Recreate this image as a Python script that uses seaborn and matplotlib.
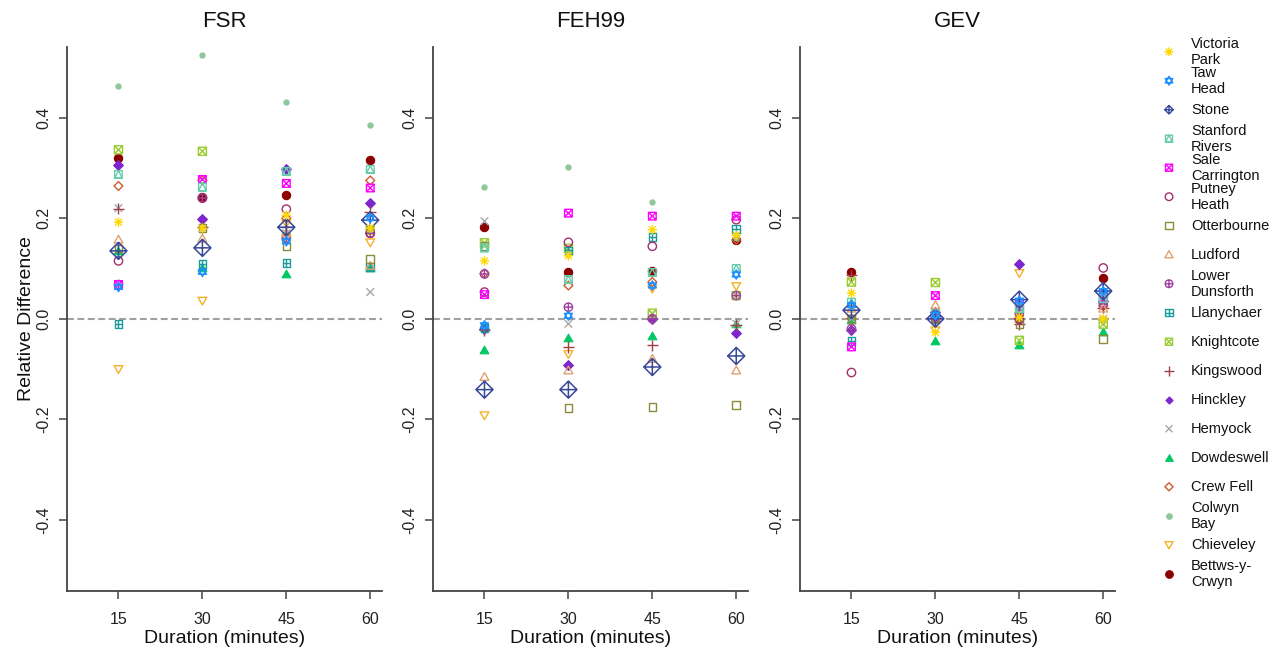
import numpy as np
import pandas as pd
import seaborn as sns
import matplotlib.pyplot as plt
from matplotlib.path import Path

# sites as listed in the legend (top to bottom)
sites = ["Victoria Park", "Taw Head", "Stone", "Stanford Rivers", "Sale Carrington",
         "Putney Heath", "Otterbourne", "Ludford", "Lower Dunsforth", "Llanychaer",
         "Knightcote", "Kingswood", "Hinckley", "Hemyock", "Dowdeswell",
         "Crew Fell", "Colwyn Bay", "Chieveley", "Bettws-y-Crwyn"]
legend_labels = ["Victoria\nPark", "Taw\nHead", "Stone", "Stanford\nRivers", "Sale\nCarrington",
                 "Putney\nHeath", "Otterbourne", "Ludford", "Lower\nDunsforth", "Llanychaer",
                 "Knightcote", "Kingswood", "Hinckley", "Hemyock", "Dowdeswell",
                 "Crew Fell", "Colwyn\nBay", "Chieveley", "Bettws-y-\nCrwyn"]
durations = [15, 30, 45, 60]
methods = ["FSR", "FEH99", "GEV"]

# relative difference, one row per site, columns = 15, 30, 45, 60 minutes
fsr = [
    [0.192, 0.180, 0.206, 0.180],
    [0.063, 0.093, 0.154, 0.200],
    [0.135, 0.141, 0.182, 0.196],
    [0.287, 0.262, 0.293, 0.297],
    [0.068, 0.277, 0.269, 0.260],
    [0.115, 0.240, 0.218, 0.170],
    [0.140, 0.180, 0.144, 0.119],
    [0.157, 0.159, 0.170, 0.105],
    [0.068, 0.240, 0.160, 0.170],
    [-0.011, 0.109, 0.111, 0.103],
    [0.336, 0.333, 0.162, 0.176],
    [0.219, 0.182, 0.182, 0.212],
    [0.306, 0.199, 0.297, 0.230],
    [0.220, 0.180, 0.170, 0.053],
    [0.135, 0.100, 0.088, 0.100],
    [0.264, 0.275, 0.200, 0.275],
    [0.463, 0.524, 0.431, 0.385],
    [-0.100, 0.036, 0.190, 0.152],
    [0.320, 0.243, 0.247, 0.316],
]
feh99 = [
    [0.115, 0.125, 0.177, 0.166],
    [-0.013, 0.006, 0.066, 0.088],
    [-0.141, -0.141, -0.096, -0.074],
    [0.141, 0.078, 0.092, 0.100],
    [0.048, 0.210, 0.204, 0.204],
    [0.053, 0.152, 0.144, 0.197],
    [0.145, -0.178, -0.176, -0.172],
    [-0.116, -0.103, -0.080, -0.103],
    [0.089, 0.023, 0.000, 0.046],
    [-0.018, 0.136, 0.163, 0.178],
    [0.151, 0.140, 0.011, 0.046],
    [-0.023, -0.056, -0.053, -0.012],
    [-0.020, -0.093, 0.000, -0.029],
    [0.194, -0.010, 0.010, -0.010],
    [-0.062, -0.038, -0.035, -0.010],
    [0.090, 0.066, 0.073, 0.157],
    [0.262, 0.302, 0.232, 0.160],
    [-0.192, -0.070, 0.060, 0.065],
    [0.182, 0.092, 0.094, 0.157],
]
gev = [
    [0.051, -0.027, 0.003, 0.000],
    [0.027, 0.007, 0.036, 0.055],
    [0.017, 0.000, 0.038, 0.055],
    [0.033, 0.010, 0.020, 0.040],
    [-0.056, 0.046, 0.031, 0.043],
    [-0.107, 0.005, 0.000, 0.101],
    [0.000, 0.000, -0.010, -0.040],
    [0.020, 0.027, 0.000, 0.020],
    [-0.020, 0.000, 0.010, 0.030],
    [-0.044, 0.000, 0.020, 0.050],
    [0.073, 0.072, -0.043, -0.011],
    [0.086, 0.005, -0.010, 0.022],
    [-0.023, 0.013, 0.109, 0.036],
    [0.000, 0.000, 0.000, 0.000],
    [-0.003, -0.044, -0.053, -0.027],
    [0.000, 0.000, 0.000, 0.025],
    [0.000, 0.000, 0.000, 0.000],
    [0.000, -0.023, 0.091, -0.005],
    [0.093, 0.013, 0.000, 0.080],
]
values = {"FSR": fsr, "FEH99": feh99, "GEV": gev}

colours = ["#FFD700", "#1E90FF", "#3A4A9A", "#66CDAA", "#FF00FF",
           "#A0306E", "#8B8B3A", "#E0A070", "#A040A0", "#1A9A9A",
           "#9ACD32", "#A0404A", "#7D26CD", "#A8A8A8", "#00C864",
           "#CD5B2D", "#8FC79A", "#F5B027", "#8B0000"]


# ---- R-like plotting symbols built from paths ----
def poly(pts):
    return Path(pts + [pts[0]], [Path.MOVETO] + [Path.LINETO] * (len(pts) - 1) + [Path.CLOSEPOLY])


def seg(*pairs):
    verts, codes = [], []
    for a, b in pairs:
        verts += [a, b]
        codes += [Path.MOVETO, Path.LINETO]
    return Path(verts, codes)


SQ = poly([(-1, -1), (1, -1), (1, 1), (-1, 1)])
CIRC = Path.unit_circle()
DIAM = poly([(0, -1), (1, 0), (0, 1), (-1, 0)])
TUP = poly([(-1, -0.75), (1, -0.75), (0, 1)])
TDN = poly([(-1, 0.75), (1, 0.75), (0, -1)])
PLUS = seg(((-1, 0), (1, 0)), ((0, -1), (0, 1)))
CROSS = seg(((-1, -1), (1, 1)), ((-1, 1), (1, -1)))
SMALLX = seg(((-0.72, -0.72), (0.72, 0.72)), ((-0.72, 0.72), (0.72, -0.72)))
STAR6 = Path.make_compound_path(poly([(-0.87, -0.5), (0.87, -0.5), (0, 1)]),
                                poly([(-0.87, 0.5), (0.87, 0.5), (0, -1)]))
cp = Path.make_compound_path

# (path, filled, size in plot, size in legend)
symbols = [
    (cp(PLUS, SMALLX), False, 45, 40),
    (STAR6, False, 45, 40),
    (cp(DIAM, PLUS), False, 150, 38),
    (cp(SQ, poly([(-1, -1), (1, -1), (0, 1)])), False, 30, 26),
    (cp(SQ, CROSS), False, 30, 26),
    (CIRC, False, 36, 30),
    (SQ, False, 30, 26),
    (TUP, False, 40, 34),
    (cp(CIRC, PLUS), False, 36, 30),
    (cp(SQ, PLUS), False, 30, 26),
    (cp(SQ, CROSS), False, 34, 26),
    (PLUS, False, 70, 50),
    (DIAM, True, 50, 26),
    (CROSS, False, 30, 26),
    (TUP, True, 40, 30),
    (DIAM, False, 40, 34),
    (CIRC, True, 14, 16),
    (TDN, False, 40, 34),
    (CIRC, True, 36, 30),
]

rows = []
for m in methods:
    for i, s in enumerate(sites):
        for j, d in enumerate(durations):
            rows.append({"method": m, "site": s, "duration": d, "value": values[m][i][j]})
df = pd.DataFrame(rows)

sns.set_style("white")
plt.rcParams["font.family"] = ["Liberation Sans", "DejaVu Sans"]

fig = plt.figure(figsize=(12.75, 6.48), dpi=100)
W, H = 1275, 648
lefts = [67, 433, 800]
axes = [fig.add_axes([l / W, 0.0884, 315 / W, 0.8395]) for l in lefts]
spine_col = "#444444"

for ax, m in zip(axes, methods):
    ax.axhline(0, color="#A0A0A0", lw=1.5, ls=(0, (3.3, 1.7)), zorder=0.5)
    # alphabetical drawing order
    for i in reversed(range(len(sites))):
        path, filled, size, _ = symbols[i]
        sub = df[(df["method"] == m) & (df["site"] == sites[i])]
        if filled:
            sns.scatterplot(data=sub, x="duration", y="value", marker=path, s=size,
                            color=colours[i], edgecolor=colours[i], linewidth=0.8,
                            ax=ax, legend=False, zorder=3)
        else:
            sns.scatterplot(data=sub, x="duration", y="value", marker=path, s=size,
                            facecolor="none", edgecolor=colours[i],
                            linewidth=1.1 if i == 2 else 1.0,
                            ax=ax, legend=False, zorder=3)
    ax.set_xlim(5.8, 62.1)
    ax.set_ylim(-0.541, 0.541)
    ax.set_xticks(durations)
    ax.set_xticklabels([str(d) for d in durations])
    ax.set_yticks([-0.4, -0.2, 0.0, 0.2, 0.4])
    ax.set_yticklabels(["-0.4", "-0.2", "0.0", "0.2", "0.4"], rotation=90, va="center")
    for side in ["top", "right"]:
        ax.spines[side].set_visible(False)
    for side in ["left", "bottom"]:
        ax.spines[side].set_color(spine_col)
        ax.spines[side].set_linewidth(1.3)
    ax.tick_params(axis="both", direction="out", length=6, width=1.1, color=spine_col,
                   labelsize=11.5, labelcolor="#222222", left=True, bottom=True)
    ax.tick_params(axis="x", pad=9)
    ax.tick_params(axis="y", pad=5)
    ax.set_title(m, fontsize=16, pad=14, color="#111111")
    ax.set_xlabel("Duration (minutes)", fontsize=14, labelpad=2.5, color="#111111")
    ax.set_ylabel("")
    ax.grid(False)

axes[0].set_ylabel("Relative Difference", fontsize=14, labelpad=1, color="#111111")

# legend drawn as its own small axes, one row per site
lax = fig.add_axes([1150 / W, 0, 125 / W, 1])
lax.set_xlim(0, 125)
lax.set_ylim(20.56, -1.783)
lax.axis("off")
for i, s in enumerate(sites):
    path, filled, _, lsize = symbols[i]
    if filled:
        lax.scatter([19], [i], marker=path, s=lsize, color=colours[i], edgecolor=colours[i], linewidth=0.8)
    else:
        lax.scatter([19], [i], marker=path, s=lsize, facecolor="none", edgecolor=colours[i], linewidth=1.0)
    lax.text(41, i, legend_labels[i], fontsize=10.5, va="center", ha="left",
             linespacing=1.15, color="#111111")

fig.savefig("out.png", dpi=100)
